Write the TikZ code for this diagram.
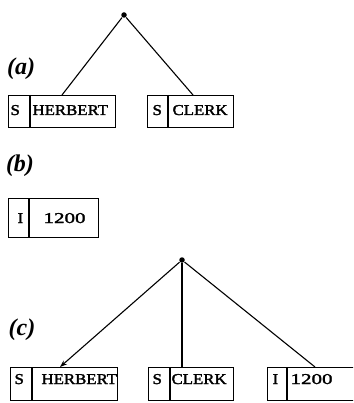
\documentclass[tikz,border=0pt]{standalone}
\usepackage{fontspec}
\usetikzlibrary{arrows.meta}
\newfontfamily\typewriter[FakeStretch=1.12,FakeBold=2]{Liberation Serif}
\newfontfamily\typedigits[FakeStretch=1.4,FakeBold=2]{Liberation Serif}
\newfontfamily\labelfont{Liberation Serif}
\begin{document}
\begin{tikzpicture}[x=1pt,y=-1pt,
  line width=1.1pt,
  dot/.style={circle,fill,inner sep=0pt,minimum size=5.5pt},
  cell/.style={draw,rectangle,inner sep=0pt,anchor=north west},
  entry/.style={anchor=base west,inner sep=0pt,font=\typewriter\fontsize{15}{15}\selectfont},
  numentry/.style={entry,font=\typedigits\fontsize{15}{15}\selectfont},
  part/.style={inner sep=0pt,font=\labelfont\bfseries\itshape\fontsize{24}{24}\selectfont},
  branch/.style={line width=1.1pt},
  arrowbranch/.style={branch,-{Stealth[length=7pt,width=5pt]}}]
\clip (0,0) rectangle (353,403);
\fill[white] (0,0) rectangle (353,403);

% ---------- (a) ----------
\node[part] (la) at (21,69) {(a)};
\node[dot] (ra) at (124,15) {};
\node[cell,minimum width=107pt,minimum height=32pt] (ha) at (8,95) {};
\draw (30,95) -- (30,127);
\node[entry] (hsa) at (10,115) {S};
\node[entry] (hna) at (32,115) {HERBERT};
\node[cell,minimum width=86pt,minimum height=32pt] (ca) at (147,95) {};
\draw (168,95) -- (168,127);
\node[entry] (csa) at (152,115) {S};
\node[entry] (cna) at (172,115) {CLERK};
\coordinate (ea1) at (62,95);
\coordinate (ea2) at (193,95);
\draw[branch] (ra) -- (ea1);
\draw[branch] (ra) -- (ea2);

% ---------- (b) ----------
\node[part] (lb) at (20,166) {(b)};
\node[cell,minimum width=90pt,minimum height=39pt] (ib) at (8,198) {};
\draw (29,198) -- (29,237);
\node[entry] (isb) at (17,223) {I};
\node[numentry] (inb) at (43,223) {1200};

% ---------- (c) ----------
\node[part] (lc) at (22,330) {(c)};
\node[dot] (rc) at (182,260) {};
\node[cell,minimum width=107pt,minimum height=33pt] (hc) at (10,367) {};
\draw (32,367) -- (32,400);
\node[entry] (hsc) at (14,384) {S};
\node[entry] (hnc) at (41,384) {HERBERT};
\node[cell,minimum width=85pt,minimum height=33pt] (cc) at (148,367) {};
\draw (170,367) -- (170,400);
\node[entry] (csc) at (152,384) {S};
\node[entry] (cnc) at (171,384) {CLERK};
\node[cell,minimum width=95pt,minimum height=33pt] (ic) at (267,367) {};
\draw (287,367) -- (287,400);
\node[entry] (isc) at (272,384) {I};
\node[numentry] (inc) at (290,384) {1200};
\coordinate (ec1) at (60,367);
\coordinate (ec2) at (182,367);
\coordinate (ec3) at (315,367);
\draw[arrowbranch] (rc) -- (ec1);
\draw[branch] (rc) -- (ec2);
\draw[branch] (rc) -- (ec3);
\end{tikzpicture}
\end{document}
